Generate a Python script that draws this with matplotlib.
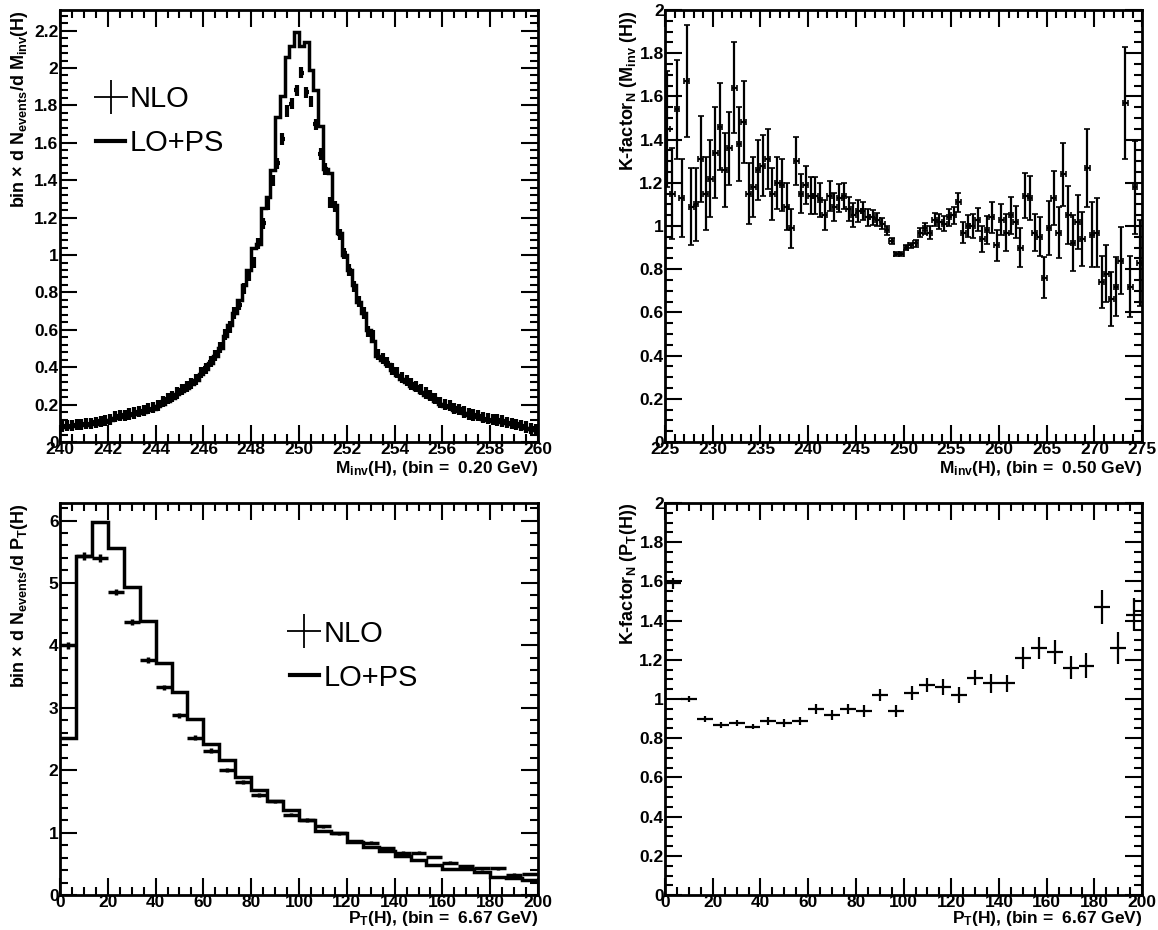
import numpy as np
import matplotlib.pyplot as plt
from matplotlib.lines import Line2D
from matplotlib.ticker import MultipleLocator, FuncFormatter

plt.rcParams['font.family'] = ['Liberation Sans', 'DejaVu Sans']
plt.rcParams['font.weight'] = 'bold'
plt.rcParams['mathtext.fontset'] = 'custom'
plt.rcParams['mathtext.rm'] = 'Liberation Sans:bold'
plt.rcParams['mathtext.bf'] = 'Liberation Sans:bold'
plt.rcParams['mathtext.it'] = 'Liberation Sans:bold'
plt.rcParams['mathtext.default'] = 'rm'

# --- invariant mass, 100 bins of 0.2 GeV between 240 and 260 ---
mass_range = (240.0, 260.0)
nlo_mass = [
    0.085, 0.088, 0.090, 0.092, 0.095, 0.097, 0.100, 0.105, 0.110, 0.115,
    0.122, 0.135, 0.140, 0.142, 0.150, 0.155, 0.162, 0.168, 0.178, 0.185,
    0.195, 0.215, 0.232, 0.245, 0.262, 0.280, 0.298, 0.315, 0.335, 0.372,
    0.395, 0.430, 0.462, 0.505, 0.575, 0.615, 0.690, 0.735, 0.820, 0.890,
    0.960, 1.060, 1.170, 1.270, 1.400, 1.490, 1.620, 1.770, 1.810, 1.880,
    1.975, 1.870, 1.820, 1.700, 1.540, 1.460, 1.280, 1.260, 1.110, 1.010,
    0.920, 0.830, 0.750, 0.690, 0.590, 0.570, 0.470, 0.445, 0.425, 0.390,
    0.370, 0.345, 0.330, 0.310, 0.295, 0.280, 0.262, 0.250, 0.232, 0.212,
    0.200, 0.195, 0.180, 0.175, 0.160, 0.150, 0.145, 0.140, 0.130, 0.125,
    0.120, 0.118, 0.112, 0.105, 0.100, 0.095, 0.088, 0.080, 0.072, 0.065,
]
nlo_mass_err = 0.03
lo_mass = [
    0.080, 0.082, 0.085, 0.088, 0.090, 0.092, 0.095, 0.098, 0.102, 0.108,
    0.118, 0.128, 0.135, 0.138, 0.142, 0.148, 0.155, 0.160, 0.170, 0.178,
    0.190, 0.205, 0.222, 0.238, 0.255, 0.272, 0.290, 0.310, 0.330, 0.362,
    0.392, 0.425, 0.460, 0.505, 0.565, 0.625, 0.690, 0.760, 0.840, 0.920,
    1.040, 1.060, 1.250, 1.310, 1.455, 1.740, 1.850, 2.060, 2.120, 2.190,
    2.120, 2.140, 1.990, 1.880, 1.690, 1.460, 1.440, 1.270, 1.120, 1.000,
    0.920, 0.840, 0.750, 0.690, 0.600, 0.540, 0.460, 0.440, 0.415, 0.385,
    0.360, 0.338, 0.320, 0.300, 0.285, 0.270, 0.252, 0.240, 0.222, 0.205,
    0.195, 0.185, 0.172, 0.165, 0.155, 0.145, 0.138, 0.132, 0.125, 0.118,
    0.115, 0.110, 0.105, 0.100, 0.095, 0.090, 0.084, 0.076, 0.068, 0.062,
]

# --- K-factor vs invariant mass, 100 bins of 0.5 GeV between 225 and 275 ---
kmass_range = (225.0, 275.0)
k_mass = [
    1.45, 1.15, 1.54, 1.13, 1.67, 1.09, 1.10, 1.31, 1.15, 1.22,
    1.34, 1.46, 1.26, 1.36, 1.64, 1.38, 1.48, 1.15, 1.18, 1.26,
    1.28, 1.31, 1.15, 1.20, 1.19, 1.09, 0.99, 1.30, 1.15, 1.19,
    1.14, 1.14, 1.12, 1.05, 1.14, 1.09, 1.13, 1.14, 1.08, 1.05,
    1.07, 1.07, 1.04, 1.04, 1.03, 1.01, 0.98, 0.93, 0.87, 0.87,
    0.90, 0.91, 0.92, 0.97, 0.99, 0.97, 1.03, 1.02, 1.01, 1.04,
    1.05, 1.11, 0.97, 1.00, 1.00, 1.03, 0.94, 0.98, 1.04, 0.91,
    1.03, 0.97, 1.05, 1.02, 0.90, 1.14, 1.13, 0.97, 0.95, 0.76,
    0.99, 1.13, 0.97, 1.24, 1.05, 0.92, 1.02, 0.94, 1.27, 0.96,
    0.97, 0.74, 0.78, 0.66, 0.72, 0.84, 1.57, 0.72, 1.18, 0.83,
]
k_mass_err = [
    0.27, 0.21, 0.23, 0.18, 0.26, 0.18, 0.17, 0.20, 0.17, 0.18,
    0.21, 0.20, 0.17, 0.17, 0.21, 0.17, 0.19, 0.14, 0.14, 0.14,
    0.14, 0.14, 0.12, 0.12, 0.12, 0.11, 0.09, 0.11, 0.09, 0.09,
    0.085, 0.085, 0.08, 0.07, 0.07, 0.065, 0.065, 0.06, 0.055, 0.055,
    0.05, 0.04, 0.04, 0.035, 0.03, 0.025, 0.02, 0.015, 0.01, 0.01,
    0.01, 0.012, 0.015, 0.02, 0.025, 0.03, 0.03, 0.035, 0.035, 0.04,
    0.04, 0.045, 0.05, 0.05, 0.055, 0.055, 0.06, 0.065, 0.07, 0.07,
    0.07, 0.085, 0.085, 0.075, 0.09, 0.105, 0.10, 0.085, 0.09, 0.095,
    0.125, 0.125, 0.12, 0.145, 0.135, 0.13, 0.125, 0.125, 0.18, 0.15,
    0.16, 0.12, 0.13, 0.125, 0.135, 0.155, 0.26, 0.14, 0.215, 0.20,
]

# --- transverse momentum, 30 bins of 6.67 GeV between 0 and 200 ---
pt_range = (0.0, 200.0)
nlo_pt = [
    4.00, 5.43, 5.40, 4.86, 4.37, 3.77, 3.33, 2.88, 2.52, 2.31,
    2.00, 1.81, 1.60, 1.50, 1.29, 1.20, 1.10, 0.99, 0.87, 0.84,
    0.75, 0.68, 0.68, 0.61, 0.52, 0.47, 0.43, 0.43, 0.33, 0.34,
]
nlo_pt_err = [
    0.06, 0.06, 0.06, 0.05, 0.05, 0.05, 0.04, 0.04, 0.04, 0.04,
    0.03, 0.03, 0.03, 0.03, 0.03, 0.03, 0.03, 0.02, 0.02, 0.02,
    0.02, 0.02, 0.02, 0.02, 0.02, 0.02, 0.02, 0.02, 0.02, 0.02,
]
lo_pt = [
    2.52, 5.43, 5.97, 5.56, 4.93, 4.39, 3.72, 3.26, 2.82, 2.42,
    2.16, 1.89, 1.69, 1.50, 1.37, 1.21, 1.03, 0.99, 0.85, 0.77,
    0.71, 0.63, 0.56, 0.48, 0.42, 0.42, 0.37, 0.29, 0.28, 0.24,
]

# --- K-factor vs transverse momentum ---
k_pt = [
    1.59, 1.00, 0.90, 0.87, 0.88, 0.86, 0.89, 0.88, 0.89, 0.95,
    0.92, 0.95, 0.94, 1.02, 0.94, 1.03, 1.07, 1.06, 1.02, 1.11,
    1.08, 1.08, 1.21, 1.26, 1.24, 1.16, 1.17, 1.47, 1.26, 1.43,
]
k_pt_err = [
    0.03, 0.015, 0.015, 0.015, 0.015, 0.015, 0.02, 0.02, 0.02, 0.025,
    0.025, 0.025, 0.03, 0.03, 0.03, 0.035, 0.035, 0.04, 0.04, 0.04,
    0.05, 0.045, 0.055, 0.055, 0.06, 0.06, 0.065, 0.085, 0.08, 0.085,
]

LABEL_SIZE = 12.5


def bins(rng, values):
    edges = np.linspace(rng[0], rng[1], len(values) + 1)
    centers = 0.5 * (edges[1:] + edges[:-1])
    half = 0.5 * (edges[1] - edges[0])
    return edges, centers, half


def style(ax, xlim, ylim, xmaj, xmin, ymaj, ymin):
    ax.set_xlim(*xlim)
    ax.set_ylim(*ylim)
    ax.xaxis.set_major_locator(MultipleLocator(xmaj))
    ax.xaxis.set_minor_locator(MultipleLocator(xmin))
    ax.yaxis.set_major_locator(MultipleLocator(ymaj))
    ax.yaxis.set_minor_locator(MultipleLocator(ymin))
    fmt = FuncFormatter(lambda v, p: '%g' % round(v, 6))
    ax.xaxis.set_major_formatter(fmt)
    ax.yaxis.set_major_formatter(fmt)
    ax.tick_params(which='both', direction='in', top=True, right=True,
                   width=1.5, labelsize=LABEL_SIZE)
    ax.tick_params(axis='x', pad=0)
    ax.tick_params(axis='y', pad=1)
    ax.tick_params(which='major', length=12)
    ax.tick_params(which='minor', length=6)
    for s in ax.spines.values():
        s.set_linewidth(2)


def titles(ax, ytitle, xtitle, yx, xy):
    ax.text(yx, 1.0, ytitle, transform=ax.transAxes, rotation=90,
            ha='center', va='top', fontsize=LABEL_SIZE + 0.5)
    ax.text(1.0, xy, xtitle, transform=ax.transAxes, ha='right',
            va='center', fontsize=LABEL_SIZE)


fig = plt.figure(figsize=(11.58, 9.30), dpi=100)
ax1 = fig.add_axes([0.0518, 0.5247, 0.4128, 0.4645])
ax2 = fig.add_axes([0.5743, 0.5247, 0.4120, 0.4645])
ax3 = fig.add_axes([0.0518, 0.0375, 0.4128, 0.4216])
ax4 = fig.add_axes([0.5743, 0.0375, 0.4120, 0.4216])

leg_handles = [Line2D([], [], marker='+', markersize=24, mew=1.3,
                      linestyle='none', color='k'),
               Line2D([], [], color='k', lw=3)]
leg_labels = ['NLO', 'LO+PS']
leg_font = {'family': 'Liberation Sans', 'weight': 'normal', 'size': 21}

# top left: M_inv distribution
edges, centers, half = bins(mass_range, lo_mass)
ax1.stairs(lo_mass, edges, color='k', lw=2.5, baseline=None)
ax1.errorbar(centers, nlo_mass, xerr=half, yerr=nlo_mass_err, fmt='none',
             ecolor='k', elinewidth=3)
style(ax1, mass_range, (0, 2.31), 2, 0.5, 0.2, 0.04)
ax1.legend(leg_handles, leg_labels, loc='upper left', frameon=False,
           bbox_to_anchor=(0.045, 0.86), prop=leg_font, handlelength=1.0,
           handletextpad=0.15, labelspacing=0.55, borderpad=0)
titles(ax1, r'bin $\times$ d N$_{\rm events}$/d M$_{\rm inv}$(H)',
       r'M$_{\rm inv}$(H), (bin =  0.20 GeV)', -0.085, -0.062)

# top right: K-factor vs M_inv
edges, centers, half = bins(kmass_range, k_mass)
ax2.errorbar(centers, k_mass, xerr=half, yerr=k_mass_err, fmt='none',
             ecolor='k', elinewidth=1.6, capsize=2, capthick=1.2)
style(ax2, kmass_range, (0, 2), 5, 1, 0.2, 0.05)
titles(ax2, r'K-factor$_{\rm N}$ (M$_{\rm inv}$ (H))',
       r'M$_{\rm inv}$(H), (bin =  0.50 GeV)', -0.077, -0.062)

# bottom left: P_T distribution
edges, centers, half = bins(pt_range, lo_pt)
ax3.stairs(lo_pt, edges, color='k', lw=2.5, baseline=None)
ax3.errorbar(centers, nlo_pt, xerr=half, yerr=nlo_pt_err, fmt='none',
             ecolor='k', elinewidth=2.5)
style(ax3, pt_range, (0, 6.28), 20, 5, 1, 0.2)
ax3.legend(leg_handles, leg_labels, loc='upper left', frameon=False,
           bbox_to_anchor=(0.45, 0.74), prop=leg_font, handlelength=1.0,
           handletextpad=0.15, labelspacing=0.55, borderpad=0)
titles(ax3, r'bin $\times$ d N$_{\rm events}$/d P$_{\rm T}$(H)',
       r'P$_{\rm T}$(H), (bin =  6.67 GeV)', -0.085, -0.06)

# bottom right: K-factor vs P_T
edges, centers, half = bins(pt_range, k_pt)
ax4.errorbar(centers, k_pt, xerr=half, yerr=k_pt_err, fmt='none',
             ecolor='k', elinewidth=1.6)
style(ax4, pt_range, (0, 2), 20, 5, 0.2, 0.05)
titles(ax4, r'K-factor$_{\rm N}$ (P$_{\rm T}$(H))',
       r'P$_{\rm T}$(H), (bin =  6.67 GeV)', -0.077, -0.06)

fig.savefig('out.png', dpi=100)
